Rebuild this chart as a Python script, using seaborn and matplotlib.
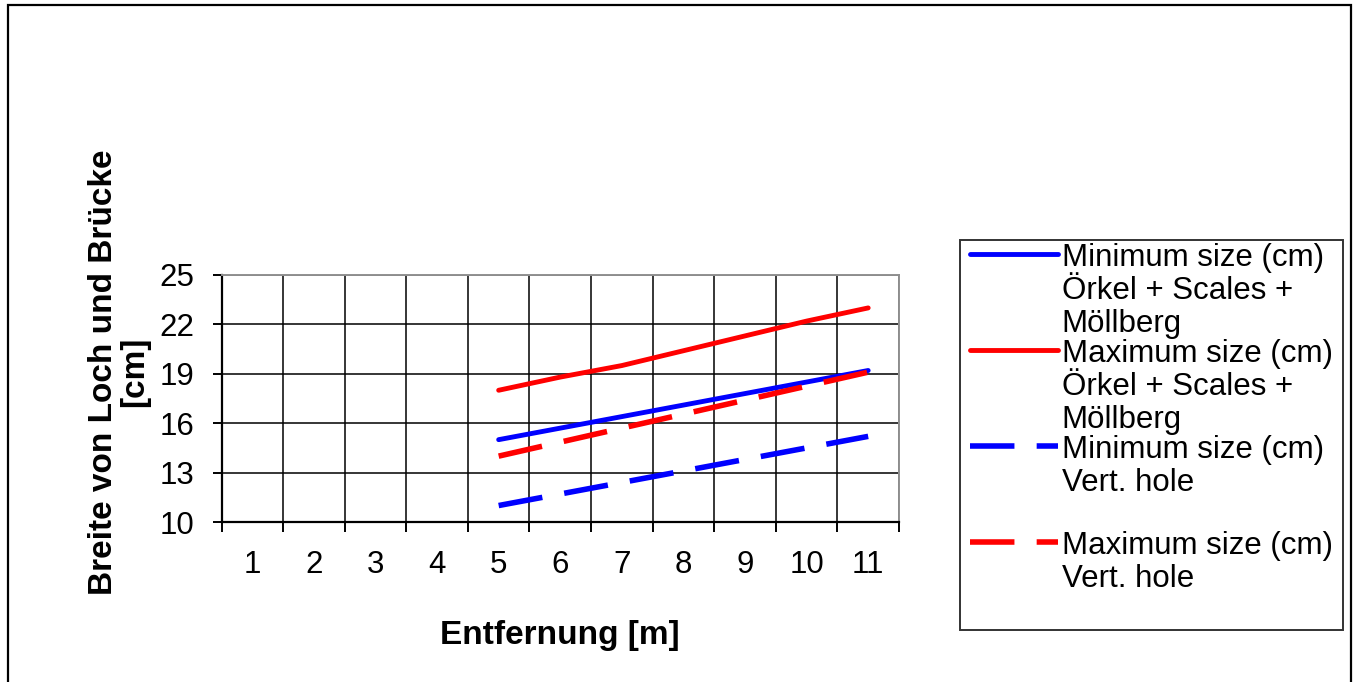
import numpy as np
import pandas as pd
import seaborn as sns
import matplotlib.pyplot as plt
from matplotlib.legend_handler import HandlerLine2D
from matplotlib.patches import Rectangle

# data
distance = [5, 6, 7, 8, 9, 10, 11]
min_orkel = [15.0, 15.7, 16.4, 17.1, 17.8, 18.5, 19.2]
max_orkel = [18.0, 18.8, 19.5, 20.4, 21.3, 22.2, 23.0]
min_vert = [11.0, 11.7, 12.4, 13.1, 13.8, 14.5, 15.2]
max_vert = [14.0, 14.85, 15.7, 16.55, 17.4, 18.25, 19.1]

x_categories = [1, 2, 3, 4, 5, 6, 7, 8, 9, 10, 11]
y_ticks = [10, 13, 16, 19, 22, 25]

labels = [
    'Minimum size (cm)\nÖrkel + Scales +\nMöllberg',
    'Maximum size (cm)\nÖrkel + Scales +\nMöllberg',
    'Minimum size (cm)\nVert. hole\n ',
    'Maximum size (cm)\nVert. hole\n ',
]

sns.set_theme(style='white')
plt.rcParams['font.family'] = ['Liberation Sans', 'DejaVu Sans']
plt.rcParams['text.color'] = 'black'
plt.rcParams['axes.labelcolor'] = 'black'
plt.rcParams['xtick.color'] = 'black'
plt.rcParams['ytick.color'] = 'black'

fig = plt.figure(figsize=(13.59, 6.82), dpi=100)
ax = fig.add_axes([0.163, 0.2346, 0.4985, 0.3622])

dash = (0, (8, 4))
sns.lineplot(x=distance, y=min_orkel, color='#0000ff', linewidth=3.5, label=labels[0], ax=ax)
sns.lineplot(x=distance, y=max_orkel, color='#ff0000', linewidth=3.5, label=labels[1], ax=ax)
sns.lineplot(x=distance, y=min_vert, color='#0000ff', linewidth=4, linestyle=dash, label=labels[2], ax=ax)
sns.lineplot(x=distance, y=max_vert, color='#ff0000', linewidth=4, linestyle=dash, label=labels[3], ax=ax)

# axes, category style x axis with boundaries as grid
ax.set_xlim(0.5, 11.5)
ax.set_ylim(10, 25)
ax.set_xticks(x_categories)
ax.set_xticks(np.arange(0.5, 12, 1), minor=True)
ax.set_yticks(y_ticks)
ax.grid(False)
ax.grid(True, which='minor', axis='x', color='black', linewidth=1.1)
ax.grid(True, which='major', axis='y', color='black', linewidth=1.1)
ax.tick_params(axis='x', which='major', length=0, pad=20, labelsize=22.5)
ax.tick_params(axis='x', which='minor', length=7, width=1.4, direction='out', bottom=True)
ax.tick_params(axis='y', which='major', length=6.5, width=1.4, direction='out',
               pad=13, labelsize=22.5, left=True)
for side in ['left', 'bottom']:
    ax.spines[side].set_color('black')
    ax.spines[side].set_linewidth(1.6)
for side in ['top', 'right']:
    ax.spines[side].set_color('#909090')
    ax.spines[side].set_linewidth(1.4)

ax.set_xlabel('Entfernung [m]', fontsize=24, fontweight='bold', labelpad=29)
ax.set_ylabel('Breite von Loch und Brücke\n[cm]', fontsize=24, fontweight='bold', linespacing=1.0)
ax.yaxis.set_label_coords(-0.105, 0.607)


# legend handle sits on the first line of each label
class TopLineHandler(HandlerLine2D):
    def create_artists(self, legend, orig_handle, xdescent, ydescent, width, height, fontsize, trans):
        artists = super().create_artists(legend, orig_handle, xdescent, ydescent,
                                         width, height, fontsize, trans)
        for a in artists:
            a.set_ydata(np.asarray(a.get_ydata()) + fontsize * 1.22)
            a.set_xdata(np.asarray(a.get_xdata()) + 5)
        return artists


handles, leg_labels = ax.get_legend_handles_labels()
leg = ax.legend(handles, leg_labels, loc='upper left', bbox_to_anchor=(0.7064, 0.648, 0.282, 0.0),
                bbox_transform=fig.transFigure, mode='expand', borderaxespad=0,
                fontsize=22.5, frameon=True, fancybox=False, edgecolor='black',
                handlelength=2.8, handletextpad=0.36, labelspacing=0.0, borderpad=0.1,
                handler_map={h: TopLineHandler() for h in handles})
leg.get_frame().set_linewidth(1.4)
for t in leg.get_texts():
    t.set_linespacing(1.13)

# outer frame of the figure
fig.patches.append(Rectangle((8 / 1359, -0.02), 1343 / 1359, 1.02 - 5 / 682,
                             transform=fig.transFigure, fill=False,
                             edgecolor='black', linewidth=1.6))

fig.savefig('out.png', dpi=100)
